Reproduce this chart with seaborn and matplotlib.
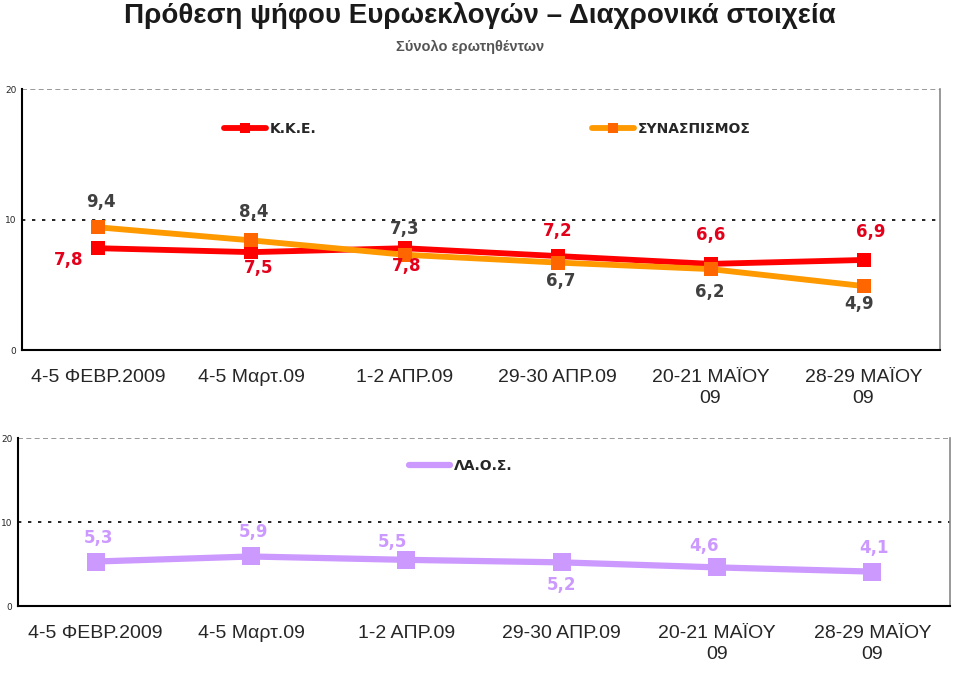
import matplotlib
matplotlib.use("Agg")
import matplotlib.pyplot as plt
import seaborn as sns
import pandas as pd
import numpy as np

# ---------------- data ----------------
categories = ["4-5 ΦΕΒΡ.2009", "4-5 Μαρτ.09", "1-2 ΑΠΡ.09", "29-30 ΑΠΡ.09",
              "20-21 ΜΑΪΟΥ\n09", "28-29 ΜΑΪΟΥ\n09"]
kke = [7.8, 7.5, 7.8, 7.2, 6.6, 6.9]
syn = [9.4, 8.4, 7.3, 6.7, 6.2, 4.9]
laos = [5.3, 5.9, 5.5, 5.2, 4.6, 4.1]
kke_labels = ["7,8", "7,5", "7,8", "7,2", "6,6", "6,9"]
syn_labels = ["9,4", "8,4", "7,3", "6,7", "6,2", "4,9"]
laos_labels = ["5,3", "5,9", "5,5", "5,2", "4,6", "4,1"]
yticks = [0, 10, 20]

# ---------------- style ----------------
sns.set_style("white")
plt.rcParams["font.family"] = ["DejaVu Sans"]
NARROW = ["Liberation Sans", "DejaVu Sans"]

RED = "#FF0000"
RED_TXT = "#E3001B"
ORANGE_LINE = "#FF9900"
ORANGE_MK = "#FF6600"
GRAY_TXT = "#404040"
LAV = "#CC99FF"

fig = plt.figure(figsize=(9.6, 6.95), dpi=100)
ax1 = fig.add_axes([0.0229, 0.4964, 0.9563, 0.3755])
ax2 = fig.add_axes([0.0188, 0.128, 0.9708, 0.2417])

pos = np.arange(len(categories))
df = pd.DataFrame({
    "pos": np.concatenate([pos, pos, pos]),
    "value": kke + syn + laos,
    "party": ["K.K.E."] * 6 + ["ΣΥΝΑΣΠΙΣΜΟΣ"] * 6 + ["ΛΑ.Ο.Σ."] * 6,
})

sns.lineplot(data=df[df.party == "K.K.E."], x="pos", y="value", ax=ax1,
             color=RED, lw=4.2, marker="s", markersize=10.5, markeredgewidth=0,
             markerfacecolor=RED, label="K.K.E.", zorder=3)
sns.lineplot(data=df[df.party == "ΣΥΝΑΣΠΙΣΜΟΣ"], x="pos", y="value", ax=ax1,
             color=ORANGE_LINE, lw=4.2, marker="s", markersize=10.5, markeredgewidth=0,
             markerfacecolor=ORANGE_MK, label="ΣΥΝΑΣΠΙΣΜΟΣ", zorder=4)
sns.lineplot(data=df[df.party == "ΛΑ.Ο.Σ."], x="pos", y="value", ax=ax2,
             color=LAV, lw=4.5, marker="s", markersize=12.5, markeredgewidth=0,
             markerfacecolor=LAV, label="ΛΑ.Ο.Σ.", zorder=3)

# label offsets (pixels)
kke_off = [(-30, -12), (7, -16), (2, -18), (0, 25), (0, 29), (7, 28)]
syn_off = [(2, 25), (2, 28), (0, 26), (3, -18), (-1, -23), (-4, -18)]
laos_off = [(3, 24), (2, 24), (-14, 18), (0, -23), (-13, 21), (2, 24)]

for x, v, t, o in zip(pos, kke, kke_labels, kke_off):
    ax1.annotate(t, (x, v), xytext=o, textcoords="offset pixels", ha="center",
                 va="center", fontsize=12, fontweight="bold", color=RED_TXT, zorder=6)
for x, v, t, o in zip(pos, syn, syn_labels, syn_off):
    ax1.annotate(t, (x, v), xytext=o, textcoords="offset pixels", ha="center",
                 va="center", fontsize=12, fontweight="bold", color=GRAY_TXT, zorder=6)
for x, v, t, o in zip(pos, laos, laos_labels, laos_off):
    ax2.annotate(t, (x, v), xytext=o, textcoords="offset pixels", ha="center",
                 va="center", fontsize=12, fontweight="bold", color=LAV, zorder=6)

for ax in (ax1, ax2):
    ax.set_xlim(-0.5, len(categories) - 0.5)
    ax.set_ylim(0, 20)
    ax.set_yticks(yticks)
    ax.set_yticklabels([str(t) for t in yticks], fontsize=6.5)
    ax.set_xticks(pos)
    ax.set_xticklabels(categories, fontsize=14, family=NARROW, linespacing=1.25)
    ax.set_xticks(np.arange(-0.5, len(categories)), minor=True)
    ax.tick_params(axis="x", which="major", length=0, pad=14)
    ax.tick_params(axis="x", which="minor", length=8, width=1.2, direction="out", color="black")
    ax.tick_params(axis="y", which="major", length=3, width=1.2, direction="out", pad=1, color="black")
    ax.set_xlabel("")
    ax.set_ylabel("")
    ax.axhline(10, color="black", lw=1.2, ls=(0, (2, 4)), zorder=1)
    ax.axhline(20, color="#888888", lw=1.2, ls=(0, (3, 2)), zorder=1)
    ax.spines["top"].set_visible(False)
    ax.spines["left"].set_color("black")
    ax.spines["left"].set_linewidth(1.5)
    ax.spines["bottom"].set_color("black")
    ax.spines["bottom"].set_linewidth(1.5)
    ax.spines["right"].set_color("#888888")
    ax.spines["right"].set_linewidth(1.2)

ax1.legend(loc="center", bbox_to_anchor=(0.507, 0.847), ncol=2, frameon=False,
           columnspacing=19.8, handlelength=3.0, handletextpad=0.3,
           prop={"weight": "bold", "size": 10}, markerscale=0.7)
ax2.legend(loc="center", bbox_to_anchor=(0.475, 0.833), frameon=False,
           handlelength=3.0, handletextpad=0.3,
           prop={"weight": "bold", "size": 10}, markerscale=0.35)

fig.text(0.5, 0.978, "Πρόθεση ψήφου Ευρωεκλογών – Διαχρονικά στοιχεία",
         ha="center", va="center", fontsize=20, fontweight="bold",
         family=NARROW, color="#1a1a1a")
fig.text(0.49, 0.933, "Σύνολο ερωτηθέντων", ha="center", va="center",
         fontsize=10.5, fontweight="bold", family=NARROW, color="#555555")

fig.savefig("out.png", dpi=100)
